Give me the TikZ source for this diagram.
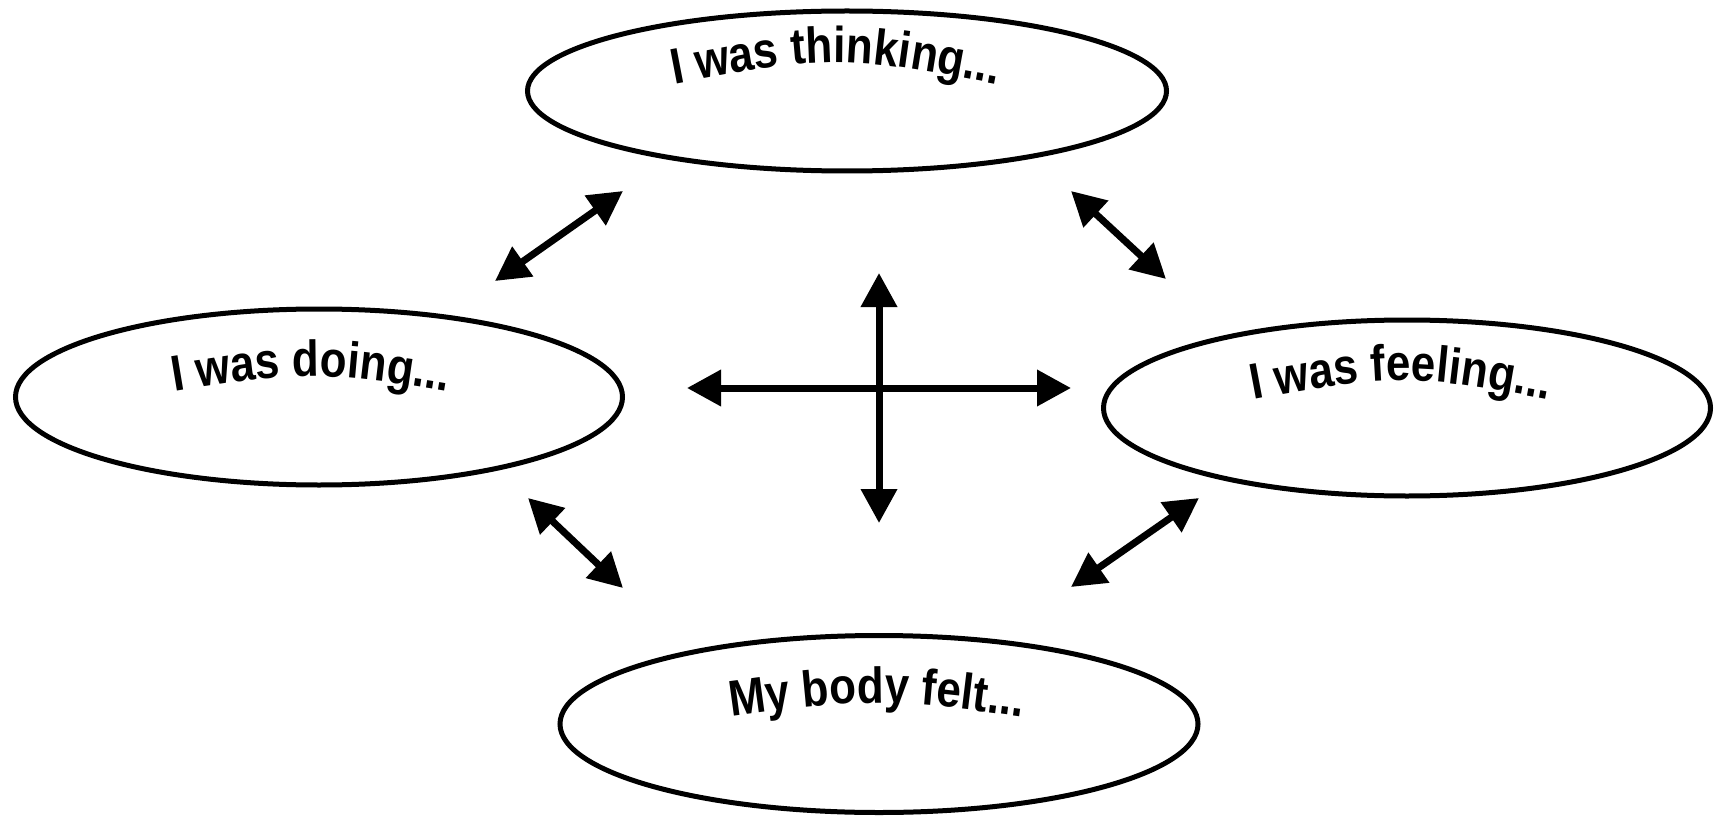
\documentclass[tikz,border=0pt]{standalone}
\usepackage{fontspec}
\setmainfont{Liberation Sans}
\newfontfamily\lbfont[FakeStretch=0.87]{Liberation Sans}
\usetikzlibrary{shapes.geometric,arrows.meta,decorations.text}
\begin{document}
\begin{tikzpicture}[x=1pt,y=-1pt,
  oval/.style={draw=black,line width=5pt,ellipse,inner sep=0pt,fill=white},
  arched/.style={decorate,decoration={text along path,text align=center,
     text format delimiters={|}{|},
     text={|\lbfont\bfseries\fontsize{50.5}{54}\selectfont|#1}}},
  dblarrow/.style={line width=7pt,{Triangle[length=34pt,width=35pt]}-{Triangle[length=34pt,width=35pt]}}]
\useasboundingbox (0,0) rectangle (1723,818);
\node[oval,minimum width=639pt,minimum height=160pt] (top) at (847,91) {};
\node[oval,minimum width=607pt,minimum height=176pt] (left) at (319,397) {};
\node[oval,minimum width=607pt,minimum height=176pt] (right) at (1407,408) {};
\node[oval,minimum width=638pt,minimum height=177pt] (bottom) at (879,724) {};
% arched labels
\coordinate (tA) at (641,91); \coordinate (tC) at (836,53); \coordinate (tB) at (1031,91);
\path[arched={I was thinking...}] (tA) .. controls (tC) .. (tB);
\coordinate (lA) at (115,402); \coordinate (lC) at (311,368); \coordinate (lB) at (507,402);
\path[arched={I was doing...}] (lA) .. controls (lC) .. (lB);
\coordinate (rA) at (1205,409); \coordinate (rC) at (1401,371); \coordinate (rB) at (1597,409);
\path[arched={I was feeling...}] (rA) .. controls (rC) .. (rB);
\coordinate (bA) at (682,724); \coordinate (bC) at (877,696); \coordinate (bB) at (1072,724);
\path[arched={My body felt...}] (bA) .. controls (bC) .. (bB);
% diagonal arrows
\coordinate (a1) at (495,281); \coordinate (a2) at (623,191);
\coordinate (b1) at (1071,191); \coordinate (b2) at (1166,279);
\coordinate (c1) at (528,498); \coordinate (c2) at (623,588);
\coordinate (d1) at (1071,587); \coordinate (d2) at (1199,498);
\draw[dblarrow] (a1) -- (a2);
\draw[dblarrow] (b1) -- (b2);
\draw[dblarrow] (c1) -- (c2);
\draw[dblarrow] (d1) -- (d2);
% cross
\coordinate (cu) at (879,273); \coordinate (cd) at (879,523);
\coordinate (cl) at (687,388); \coordinate (cr) at (1071,388);
\draw[dblarrow] (cl) -- (cr);
\draw[dblarrow] (cu) -- (cd);
\end{tikzpicture}
\end{document}
